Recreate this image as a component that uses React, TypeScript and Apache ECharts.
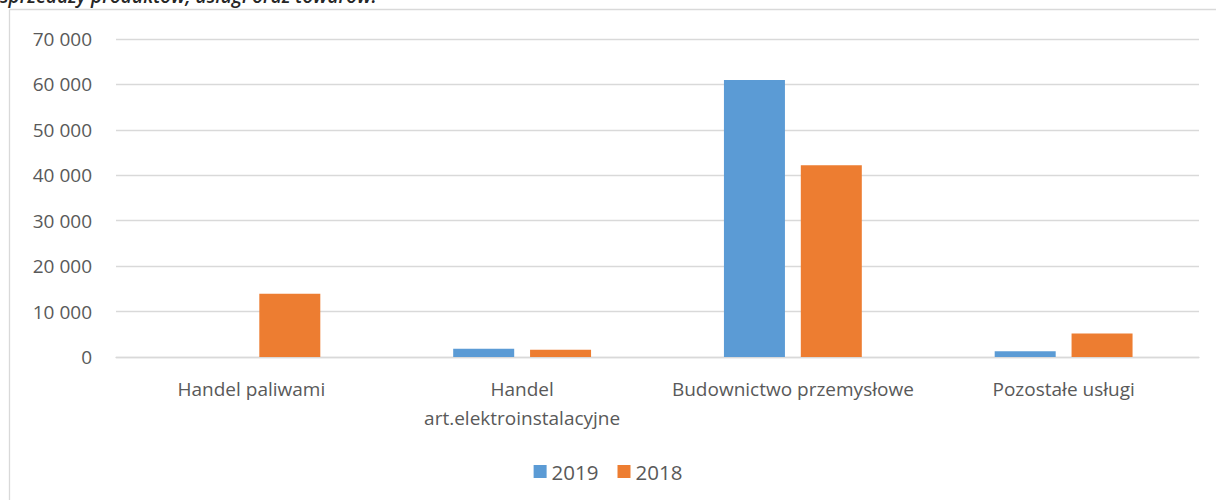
import React, { useEffect, useRef } from "react";
import * as echarts from "echarts";

const categories = [
  "Handel paliwami",
  "Handel\nart.elektroinstalacyjne",
  "Budownictwo przemysłowe",
  "Pozostałe usługi",
];
const values2019 = [0, 1800, 61000, 1250];
const values2018 = [13900, 1600, 42200, 5200];
const seriesNames = ["2019", "2018"];
const titleText = "sprzedaży produktów, usługi oraz towarów.";

const FONT = "Open Sans";
const TXT = "#595959";

export default function App() {
  const ref = useRef<HTMLDivElement>(null);
  useEffect(() => {
    if (!ref.current) return;
    const chart = echarts.init(ref.current, undefined, { renderer: "svg" });
    chart.setOption({
      animation: false,
      backgroundColor: "#ffffff",
      textStyle: { fontFamily: FONT },
      graphic: [
        {
          type: "line",
          shape: { x1: 9.5, y1: 9.5, x2: 1216, y2: 9.5 },
          style: { stroke: "#d9d9d9", lineWidth: 1.3 },
        },
        {
          type: "line",
          shape: { x1: 9.5, y1: 9.5, x2: 9.5, y2: 500 },
          style: { stroke: "#d9d9d9", lineWidth: 1.3 },
        },
        {
          type: "text",
          x: 0,
          y: -4,
          style: {
            text: titleText,
            font: `italic 600 19px ${FONT}`,
            fill: "#262626",
            verticalAlign: "middle",
          },
        },
      ],
      grid: { left: 116, right: 17, top: 39, bottom: 143 },
      legend: {
        data: seriesNames,
        left: "center",
        top: 456,
        itemWidth: 13,
        itemHeight: 13,
        itemGap: 19,
        icon: "rect",
        textStyle: { color: TXT, fontSize: 20.5, fontFamily: FONT },
      },
      xAxis: {
        type: "category",
        data: categories,
        axisLine: { lineStyle: { color: "#d9d9d9", width: 1.3 } },
        axisTick: { show: false },
        axisLabel: {
          color: TXT,
          fontSize: 19,
          fontFamily: FONT,
          margin: 17,
          lineHeight: 29,
          interval: 0,
        },
      },
      yAxis: {
        type: "value",
        min: 0,
        max: 70000,
        interval: 10000,
        axisLine: { show: false },
        axisTick: { show: false },
        splitLine: { lineStyle: { color: "#d9d9d9", width: 1.3 } },
        axisLabel: {
          color: TXT,
          fontSize: 19,
          fontFamily: FONT,
          margin: 24,
          formatter: (v: number) =>
            String(v).replace(/\B(?=(\d{3})+(?!\d))/g, " "),
        },
      },
      series: [
        {
          name: seriesNames[0],
          type: "bar",
          data: values2019,
          barWidth: 61,
          barGap: "26%",
          itemStyle: { color: "#5B9BD5" },
        },
        {
          name: seriesNames[1],
          type: "bar",
          data: values2018,
          barWidth: 61,
          barGap: "26%",
          itemStyle: { color: "#ED7D31" },
        },
      ],
    });
    return () => chart.dispose();
  }, []);
  return (
    <div
      ref={ref}
      style={{ position: "fixed", left: 0, top: 0, width: 1216, height: 500 }}
    />
  );
}
